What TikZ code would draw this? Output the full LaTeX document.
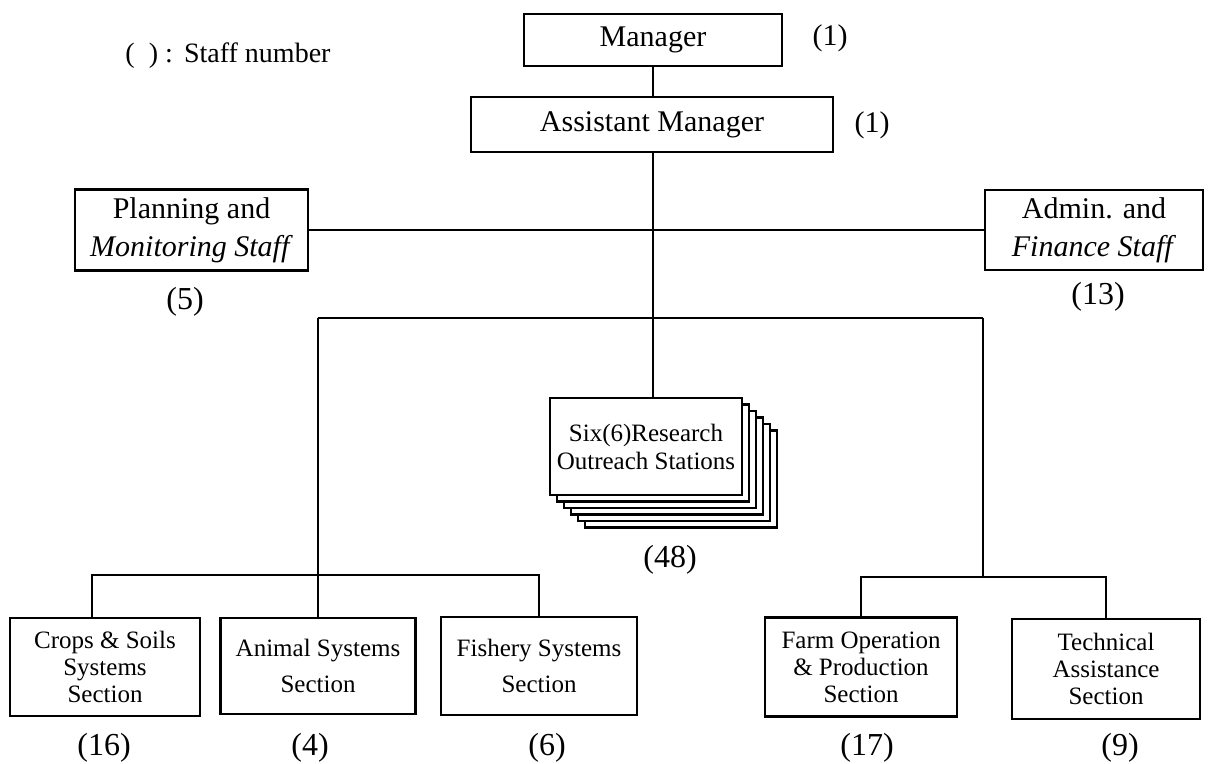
\documentclass[tikz,border=0pt]{standalone}
\usepackage{fontspec}
\setmainfont{Liberation Serif}
\begin{document}
\begin{tikzpicture}[x=0.5pt,y=-0.5pt,
  box/.style={draw,line width=1.3pt,fill=white,align=center,inner sep=0pt},
  conn/.style={line width=1.3pt},
  big/.style={font=\fontsize{15}{19}\selectfont},
  small/.style={font=\fontsize{12.5}{13.5}\selectfont},
  smallw/.style={font=\fontsize{12.5}{18}\selectfont},
  num/.style={font=\fontsize{16}{18}\selectfont},
]
\useasboundingbox (0,0) rectangle (1208,764);
\fill[white] (0,0) rectangle (1208,764);

\node[font=\fontsize{14}{16}\selectfont] (legend) at (228,56) {(\hspace{0.5em}) :\hspace{0.4em}Staff number};

\node[box,big,minimum width=129pt,minimum height=26pt] (mgr) at (653,40) {Manager};
\node[big] (n1) at (830,38) {(1)};
\node[box,big,minimum width=181pt,minimum height=27.5pt] (asst) at (652,124.5) {Assistant Manager};
\node[big] (n2) at (872,125) {(1)};

\node[box,big,minimum width=116.5pt,minimum height=40.5pt] (plan) at (191.5,230) {Planning and\\\textit{Monitoring Staff}};
\node[box,big,minimum width=109pt,minimum height=40pt] (admin) at (1094,230) {Admin. and\\\textit{Finance Staff}};
\node[num] (n5) at (185,302) {(5)};
\node[num] (n13) at (1098,297) {(13)};

\foreach \k in {5,4,3,2,1}
  \node[box,minimum width=96pt,minimum height=48.5pt] (six\k) at (646+7*\k,446.5+6.5*\k) {};
\node[box,font=\fontsize{12.5}{14}\selectfont,minimum width=96pt,minimum height=48.5pt] (six) at (646,446.5) {Six(6)Research\\Outreach Stations};
\node[num] (n48) at (670,560) {(48)};

\node[box,small,minimum width=95pt,minimum height=49pt] (crops) at (105,667) {Crops \& Soils\\Systems\\Section};
\node[box,smallw,minimum width=97.5pt,minimum height=48pt] (animal) at (318,666) {Animal Systems\\Section};
\node[box,smallw,minimum width=98pt,minimum height=49pt] (fishery) at (539,666) {Fishery Systems\\Section};
\node[box,small,minimum width=96pt,minimum height=49.5pt] (farm) at (861,667) {Farm Operation\\\& Production\\Section};
\node[box,small,minimum width=94pt,minimum height=50pt] (tech) at (1106,669) {Technical\\Assistance\\Section};

\node[num] (n16) at (104,748) {(16)};
\node[num] (n4) at (310,748) {(4)};
\node[num] (n6) at (547,748) {(6)};
\node[num] (n17) at (867,748) {(17)};
\node[num] (n9) at (1120,748) {(9)};

\coordinate (ul) at (318,318);
\coordinate (ur) at (983,318);
\coordinate (lb) at (318,575);
\coordinate (rb) at (983,577);

\draw[conn] (mgr.south) -- (mgr.south |- asst.north);
\draw[conn] (mgr.south |- asst.south) -- (mgr.south |- six.north);
\draw[conn] (plan.east) -- (admin.west);
\draw[conn] (ul) -- (ur);
\draw[conn] (ul) -- (animal.north);
\draw[conn] (ur) -- (rb);
\draw[conn] (farm.north) -- (farm.north |- rb) -- (tech.north |- rb) -- (tech.north);
\draw[conn] ([xshift=-6.5pt]crops.north) -- ([xshift=-6.5pt]crops.north |- lb) -- (fishery.north |- lb) -- (fishery.north);
\end{tikzpicture}
\end{document}
